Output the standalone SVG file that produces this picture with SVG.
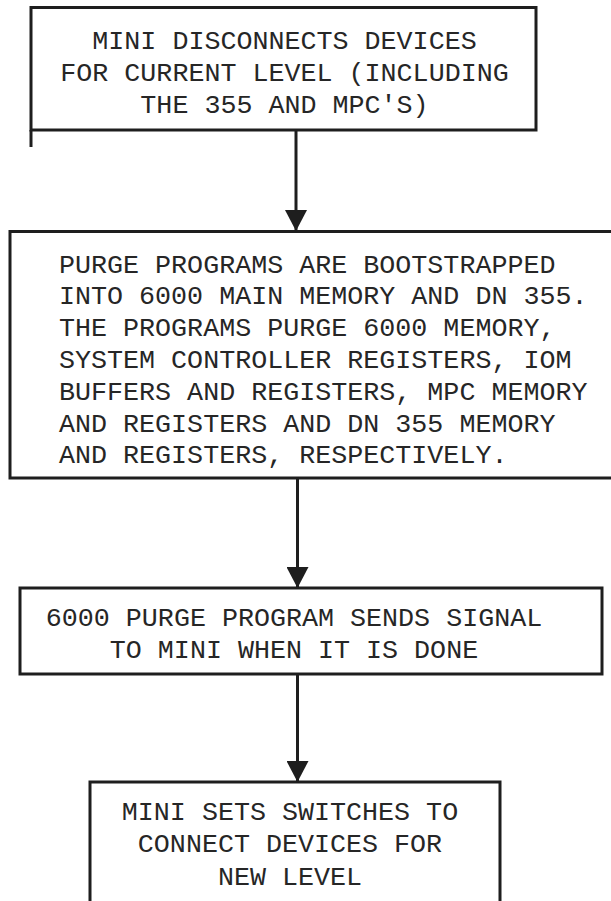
<svg xmlns="http://www.w3.org/2000/svg" width="611" height="901" viewBox="0 0 611 901">
<defs>
<style>
.box{fill:none;stroke:#1e1e1e;stroke-width:3}
.t{font-family:"Liberation Mono","DejaVu Sans Mono",monospace;font-size:26.7px;fill:#262626}
.c{text-anchor:middle}
.ln{stroke:#1e1e1e;stroke-width:3;fill:none}
</style>
<marker id="ah" viewBox="0 0 22 21" refX="11" refY="21" markerWidth="22" markerHeight="21" markerUnits="userSpaceOnUse">
<path d="M0,0 L22,0 L11,21 Z" fill="#1e1e1e"/>
</marker>
</defs>
<rect width="611" height="901" fill="#ffffff"/>
<g id="node1">
<rect class="box" x="31" y="7.5" width="505" height="122.5"/>
<line class="ln" x1="31" y1="130" x2="31" y2="147"/>
<text class="t c" x="284.5" y="49">MINI DISCONNECTS DEVICES</text>
<text class="t c" x="284.5" y="81">FOR CURRENT LEVEL (INCLUDING</text>
<text class="t c" x="284.5" y="113">THE 355 AND MPC'S)</text>
</g>
<g id="node2">
<path class="box" d="M620,231.5 L10,231.5 L10,478 L620,478"/>
<text class="t" x="59" y="273">PURGE PROGRAMS ARE BOOTSTRAPPED</text>
<text class="t" x="59" y="304">INTO 6000 MAIN MEMORY AND DN 355.</text>
<text class="t" x="59" y="336">THE PROGRAMS PURGE 6000 MEMORY,</text>
<text class="t" x="59" y="368">SYSTEM CONTROLLER REGISTERS, IOM</text>
<text class="t" x="59" y="400">BUFFERS AND REGISTERS, MPC MEMORY</text>
<text class="t" x="59" y="432">AND REGISTERS AND DN 355 MEMORY</text>
<text class="t" x="59" y="463">AND REGISTERS, RESPECTIVELY.</text>
</g>
<g id="node3">
<rect class="box" x="20" y="588" width="582" height="86"/>
<text class="t c" x="294" y="626">6000 PURGE PROGRAM SENDS SIGNAL</text>
<text class="t c" x="294" y="658">TO MINI WHEN IT IS DONE</text>
</g>
<g id="node4">
<path class="box" d="M90,910 L90,782 L500,782 L500,910"/>
<text class="t c" x="290" y="820">MINI SETS SWITCHES TO</text>
<text class="t c" x="290" y="852">CONNECT DEVICES FOR</text>
<text class="t c" x="290" y="885">NEW LEVEL</text>
</g>
<g id="connectors">
<line class="ln" x1="296" y1="130" x2="296" y2="231" marker-end="url(#ah)"/>
<line class="ln" x1="297.5" y1="478" x2="297.5" y2="588" marker-end="url(#ah)"/>
<line class="ln" x1="297.5" y1="674" x2="297.5" y2="782" marker-end="url(#ah)"/>
</g>
</svg>
